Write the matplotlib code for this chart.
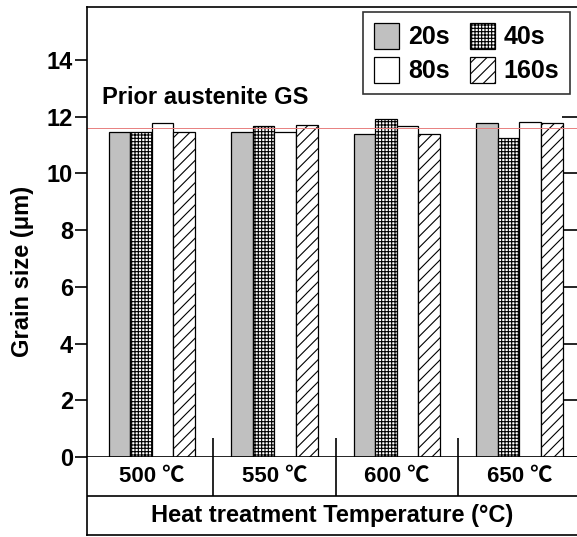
import matplotlib
matplotlib.use("Agg")
import matplotlib.pyplot as plt
import numpy as np

plt.rcParams["font.family"] = ["Liberation Sans", "DejaVu Sans"]
plt.rcParams["font.weight"] = "bold"
plt.rcParams["hatch.linewidth"] = 0.8

temps = ["500 \u2103", "550 \u2103", "600 \u2103", "650 \u2103"]
times = ["20s", "40s", "80s", "160s"]
gs_20s = [11.47, 11.47, 11.38, 11.77]
gs_40s = [11.45, 11.67, 11.91, 11.26]
gs_80s = [11.77, 11.47, 11.68, 11.81]
gs_160s = [11.45, 11.72, 11.40, 11.77]
prior_gs = 11.6

series = [gs_20s, gs_40s, gs_80s, gs_160s]
faces = ["#c0c0c0", "white", "white", "white"]
hatches = [None, "+++++", None, "///"]

fig = plt.figure(figsize=(5.77, 5.37), dpi=100)
L, R = 87 / 577, 1.0
ax = fig.add_axes([L, 80 / 537, R - L, 450 / 537])
tab = fig.add_axes([L, 2 / 537, R - L, 78 / 537])

x = np.arange(len(temps))
w = 0.176
bars = []
for i, (vals, fc, h, lab) in enumerate(zip(series, faces, hatches, times)):
    bars.append(ax.bar(x + (i - 1.5) * w, vals, w, color=fc, edgecolor="black",
                       hatch=h, linewidth=0.9, label=lab))

ax.axhline(prior_gs, color="#e88080", lw=0.7)
ax.text(0.03, 0.8, "Prior austenite GS", transform=ax.transAxes, fontsize=17,
        va="center", ha="left")

ax.set_xlim(-0.53, 3.47)
ax.set_ylim(0, 15.87)
ax.set_yticks(range(0, 15, 2))
ax.set_xticks([])
ax.tick_params(axis="y", which="both", direction="out", length=9, width=1.2,
               labelsize=17, pad=1)
ax.spines["right"].set_visible(False)
for s in ("left", "top", "bottom"):
    ax.spines[s].set_linewidth(1.2)
# inward ticks along the (cropped) right edge, under the legend stop at 12
sec = ax.secondary_yaxis("right")
sec.set_yticks(range(0, 13, 2))
sec.tick_params(direction="in", length=11, width=1.2, labelright=False)
sec.spines["right"].set_visible(False)
ax.set_ylabel("Grain size (\u03bcm)", fontsize=17, fontweight="bold")
ax.yaxis.set_label_coords(-0.108, 0.413)
# group dividers rising into the plot
ax.vlines([0.5, 1.5, 2.5], 0, 0.67, color="black", lw=1.2)

# legend filled row by row: 20s 40s / 80s 160s
order = [0, 2, 1, 3]
leg = ax.legend([bars[k] for k in order], [times[k] for k in order], ncol=2,
                loc="upper right", bbox_to_anchor=(0.986, 0.989), borderaxespad=0,
                prop={"size": 18, "weight": "bold"}, frameon=True, fancybox=False,
                edgecolor="black", handlelength=1.0, handleheight=1.2,
                handletextpad=0.35, columnspacing=0.8, borderpad=0.45,
                labelspacing=0.3)
leg.get_frame().set_linewidth(1.2)

# category table below the plot
tab.set_xlim(ax.get_xlim())
tab.set_ylim(0, 2)
tab.set_xticks([])
tab.set_yticks([])
tab.spines["right"].set_visible(False)
tab.spines["top"].set_visible(False)
for s in ("left", "bottom"):
    tab.spines[s].set_linewidth(1.2)
tab.axhline(1, color="black", lw=1.2)
tab.vlines([0.5, 1.5, 2.5], 1, 2, color="black", lw=1.2)
for xi, t in zip(x, temps):
    tab.text(xi, 1.5, t, ha="center", va="center", fontsize=16,
             family=["Liberation Sans", "Noto Sans CJK SC"])
tab.text(0.5, 0.25, "Heat treatment Temperature (\u00b0C)", transform=tab.transAxes,
         ha="center", va="center", fontsize=17)

fig.savefig("out.png", dpi=100)
